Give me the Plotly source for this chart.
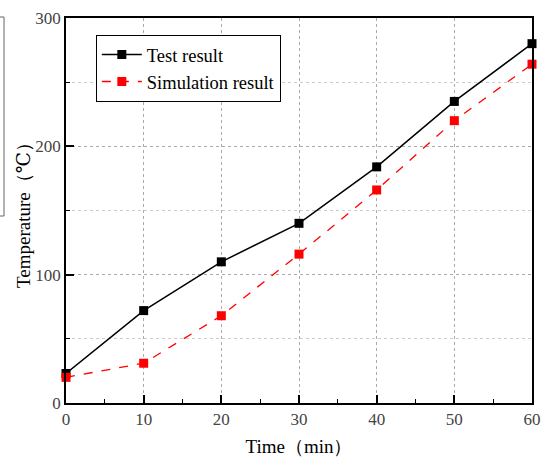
import plotly.graph_objects as go

time_min = [0, 10, 20, 30, 40, 50, 60]
test_result = [23, 72, 110, 140, 184, 235, 280]
sim_result = [20, 31, 68, 116, 166, 220, 264]

font_family = "Times New Roman, Liberation Serif, DejaVu Serif, serif"

fig = go.Figure()
fig.add_trace(go.Scatter(
    x=time_min, y=test_result, name="Test result", mode="lines+markers",
    line=dict(color="black", width=1.5),
    marker=dict(symbol="square", size=9, color="black"),
    cliponaxis=False,
))
fig.add_trace(go.Scatter(
    x=time_min, y=sim_result, name="Simulation result", mode="lines+markers",
    line=dict(color="red", width=1.3, dash="dash"),
    marker=dict(symbol="square", size=9, color="red"),
    cliponaxis=False,
))

fig.update_layout(
    width=542, height=457,
    margin=dict(l=66, r=10, t=18, b=54, autoexpand=False),
    paper_bgcolor="white", plot_bgcolor="white",
    font=dict(family=font_family, color="#333", size=16),
    showlegend=True,
    legend=dict(
        x=0.064, y=0.956, xanchor="left", yanchor="top",
        bgcolor="white", bordercolor="black", borderwidth=1,
        font=dict(family=font_family, size=18.5, color="black"),
        tracegroupgap=0, itemwidth=40,
    ),
    xaxis=dict(
        range=[0, 60], tickmode="linear", tick0=0, dtick=10, automargin=False,
        showline=True, linecolor="black", linewidth=1.5, mirror=True,
        ticks="inside", ticklen=8, tickwidth=1.5, tickcolor="black",
        showgrid=True, gridcolor="#aaa", griddash="dot", gridwidth=1,
        minor=dict(ticks="inside", ticklen=4, tickwidth=1.2, tickcolor="black", dtick=5, showgrid=False),
        zeroline=False,
        title=dict(text="Time（min）", font=dict(family=font_family, size=19, color="black"), standoff=14),
        tickfont=dict(family=font_family, size=17, color="#444"),
    ),
    yaxis=dict(
        range=[0, 300], tickmode="linear", tick0=0, dtick=100, automargin=False,
        showline=True, linecolor="black", linewidth=1.5, mirror=True,
        ticks="inside", ticklen=8, tickwidth=1.5, tickcolor="black",
        showgrid=True, gridcolor="#aaa", griddash="dot", gridwidth=1,
        minor=dict(ticks="inside", ticklen=4, tickwidth=1.2, tickcolor="black", dtick=50,
                   showgrid=True, gridcolor="#ccc", griddash="dot", gridwidth=1),
        zeroline=False,
        title=dict(text="Temperature（℃）", font=dict(family=font_family, size=19, color="black"), standoff=0),
        tickfont=dict(family=font_family, size=17, color="#444"),
    ),
    shapes=[dict(
        type="path", xref="paper", yref="paper",
        path="M -0.1416,1.0026 L -0.133,1.0026 L -0.133,0.4857 L -0.1416,0.4857",
        line=dict(color="#666", width=1),
    )],
)

fig.write_html("out.html")
